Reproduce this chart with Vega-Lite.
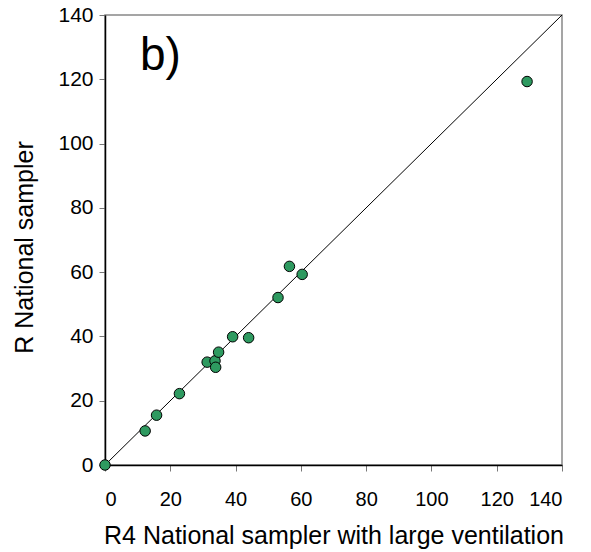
{
  "$schema": "https://vega.github.io/schema/vega-lite/v6.json",
  "width": 457,
  "height": 450,
  "autosize": {"type": "none"},
  "padding": {"left": 105, "top": 15, "right": 29, "bottom": 87},
  "config": {
    "font": "Liberation Sans",
    "view": {"stroke": "#888888", "strokeWidth": 1.5},
    "axis": {"grid": false, "domainColor": "#000000", "domainWidth": 1.5, "tickColor": "#777777", "tickSize": 6, "labelFontSize": 20, "labelColor": "#000000", "titleFontSize": 25, "titleFontWeight": "normal", "titleColor": "#000000"}
  },
  "datasets": {
    "points": [
      {"x": 0, "y": 0},
      {"x": 12.3, "y": 10.6},
      {"x": 15.8, "y": 15.5},
      {"x": 22.8, "y": 22.2},
      {"x": 31.3, "y": 32.0},
      {"x": 33.7, "y": 32.4},
      {"x": 33.9, "y": 30.4},
      {"x": 34.8, "y": 35.1},
      {"x": 39.1, "y": 39.9},
      {"x": 44.0, "y": 39.6},
      {"x": 53.0, "y": 52.1},
      {"x": 56.5, "y": 61.8},
      {"x": 60.4, "y": 59.3},
      {"x": 129.3, "y": 119.3}
    ],
    "line": [{"x": 0, "y": 0}, {"x": 140, "y": 140}],
    "label": [{"x": 10.7, "y": 123, "text": "b)"}]
  },
  "layer": [
    {
      "data": {"name": "line"},
      "mark": {"type": "line", "color": "#000000", "strokeWidth": 1, "clip": true},
      "encoding": {
        "x": {"field": "x", "type": "quantitative", "scale": {"domain": [0, 140], "nice": false}, "axis": {"values": [0, 20, 40, 60, 80, 100, 120, 140], "title": "R4 National sampler with large ventilation", "titleBaseline": "alphabetic", "titleY": 78, "labelPadding": 18}},
        "y": {"field": "y", "type": "quantitative", "scale": {"domain": [0, 140], "nice": false}, "axis": {"values": [0, 20, 40, 60, 80, 100, 120, 140], "title": "R National sampler", "titleBaseline": "alphabetic", "titleX": -73, "titleY": 232, "titleAlign": "center", "labelPadding": 6, "labelFontSize": 21}}
      }
    },
    {
      "data": {"name": "points"},
      "mark": {"type": "point", "shape": "circle", "filled": true, "fill": "#2e9a60", "stroke": "#000000", "strokeWidth": 1, "size": 110, "opacity": 1},
      "encoding": {
        "x": {"field": "x", "type": "quantitative"},
        "y": {"field": "y", "type": "quantitative"}
      }
    },
    {
      "data": {"name": "label"},
      "mark": {"type": "text", "fontSize": 46, "align": "left", "baseline": "alphabetic", "color": "#000000"},
      "encoding": {
        "x": {"field": "x", "type": "quantitative"},
        "y": {"field": "y", "type": "quantitative"},
        "text": {"field": "text"}
      }
    }
  ]
}
